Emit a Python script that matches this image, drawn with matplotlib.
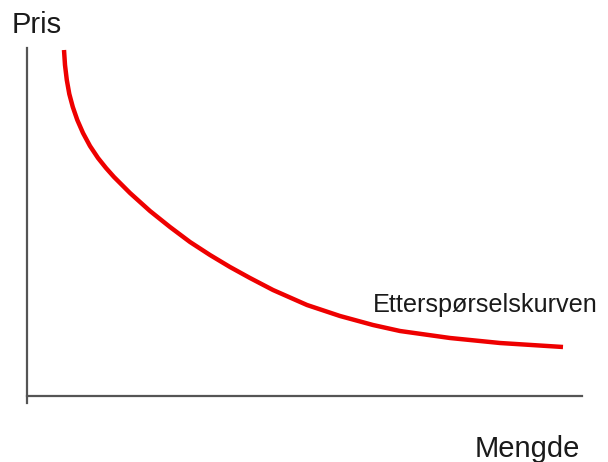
import matplotlib.pyplot as plt

# Demand curve (quantity, price), origin at the axes corner
quantity = [37, 38, 39.8, 42.3, 45.8, 50.3, 56, 63, 71, 79, 87, 95, 103, 113, 123, 133, 143,
            163, 183, 203, 223, 246, 280, 313, 346, 373, 423, 473, 536]
price = [346, 331, 316, 302, 289, 276, 263, 250, 238, 228, 219, 211, 203, 194, 185, 177, 169,
         154, 141, 129, 118, 106, 91, 80, 71, 65, 58, 53, 49]

y_label = 'Pris'
x_label = 'Mengde'
curve_label = 'Etterspørselskurven'

plt.rcParams['font.family'] = ['Liberation Sans', 'DejaVu Sans']

fig = plt.figure(figsize=(6.08, 4.62), dpi=100)
ax = fig.add_axes([0, 0, 1, 1])
ax.set_xlim(-27, 581)
ax.set_ylim(-66, 396)

ax.plot(quantity, price, color='#ee0000', linewidth=3.2,
        solid_capstyle='butt', solid_joinstyle='round')

# axes drawn as two gray lines meeting at the origin
for side in ['top', 'right']:
    ax.spines[side].set_visible(False)
ax.spines['left'].set_position(('data', 0))
ax.spines['bottom'].set_position(('data', 0))
ax.spines['left'].set_bounds(-7, 348)
ax.spines['bottom'].set_bounds(0, 555)
for side in ['left', 'bottom']:
    ax.spines[side].set_color('#555555')
    ax.spines[side].set_linewidth(1.6)
ax.set_xticks([])
ax.set_yticks([])
ax.patch.set_visible(False)

ax.text(-15, 363, y_label, fontsize=21, color='#1a1a1a', va='baseline', ha='left')
ax.text(448, -61, x_label, fontsize=21, color='#1a1a1a', va='baseline', ha='left')
ax.text(346, 84, curve_label, fontsize=18.2, color='#1a1a1a', va='baseline', ha='left')

fig.savefig('out.png', dpi=100)
